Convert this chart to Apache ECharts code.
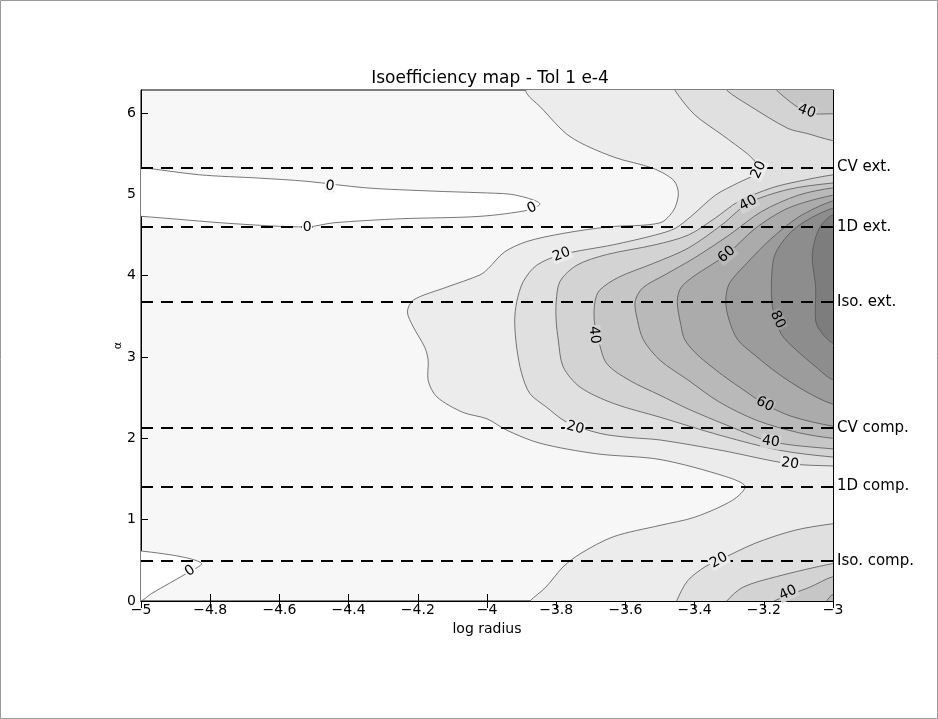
<!DOCTYPE html>
<html>
<head>
<meta charset="utf-8">
<script src="https://cdn.jsdelivr.net/npm/echarts@6/dist/echarts.min.js"></script>
<style>
html, body { margin: 0; padding: 0; background: #fff; }
#chart { width: 938px; height: 719px; }
</style>
</head>
<body>
<div id="chart"></div>
<script>
// tick values
var yTicks = [0, 1, 2, 3, 4, 5, 6];

// reference angles (dashed lines + right labels)
var refNames = ['CV ext.', '1D ext.', 'Iso. ext.', 'CV comp.', '1D comp.', 'Iso. comp.'];
var refAlpha = [5.33, 4.60, 3.68, 2.13, 1.41, 0.49];

// fill colour per band: <0, 0-10, 10-20, ... 90+
var bandColors = ['#ffffff', '#f7f7f7', '#ececec', '#e0e0e0', '#d3d3d3', '#c6c6c6',
                  '#b9b9b9', '#ababab', '#9c9c9c', '#8d8d8d', '#7d7d7d'];

// contour lines, [log radius, alpha]
// level 0 (regions below 0)
var c0a = [[-5.05,5.34],[-5,5.33],[-4.83,5.24],[-4.66,5.20],[-4.52,5.16],[-4.35,5.08],[-4.156,5.04],[-4.02,5.02],[-3.93,5.0],[-3.865,4.93],[-3.847,4.88],[-3.876,4.81],[-4.02,4.73],[-4.25,4.70],[-4.444,4.65],[-4.52,4.60],[-4.733,4.64],[-5,4.73],[-5.05,4.735]];
var c0b = [[-5.05,0.62],[-5,0.615],[-4.878,0.54],[-4.825,0.46],[-4.86,0.36],[-4.97,0.09],[-5,0.0],[-5.05,-0.05]];
// level 10
var c10 = [[-3.885,6.35],[-3.885,6.24],[-3.847,6.08],[-3.76,5.71],[-3.635,5.46],[-3.52,5.32],[-3.46,5.17],[-3.447,5.01],[-3.46,4.81],[-3.50,4.65],[-3.65,4.60],[-3.78,4.52],[-3.885,4.42],[-3.95,4.29],[-3.996,4.09],[-4.02,4.01],[-4.116,3.86],[-4.213,3.70],[-4.23,3.555],[-4.213,3.37],[-4.18,3.12],[-4.17,2.96],[-4.17,2.71],[-4.145,2.51],[-4.07,2.32],[-4.0,2.24],[-3.943,2.10],[-3.847,1.94],[-3.683,1.81],[-3.50,1.74],[-3.31,1.53],[-3.254,1.41],[-3.29,1.24],[-3.40,1.03],[-3.5,0.93],[-3.635,0.79],[-3.731,0.58],[-3.78,0.42],[-3.83,0.17],[-3.876,0],[-3.88,-0.05],[-2.95,-0.05],[-2.95,6.35]];
// level 20
var c20a = [[-3.457,6.35],[-3.457,6.28],[-3.40,5.98],[-3.32,5.73],[-3.245,5.49],[-3.22,5.38],[-3.205,5.31],[-3.225,5.24],[-3.275,5.14],[-3.34,4.99],[-3.41,4.73],[-3.457,4.58],[-3.514,4.50],[-3.635,4.38],[-3.784,4.26],[-3.856,4.13],[-3.895,3.93],[-3.914,3.68],[-3.92,3.44],[-3.914,3.11],[-3.90,2.80],[-3.876,2.55],[-3.83,2.39],[-3.77,2.20],[-3.673,2.06],[-3.587,2.01],[-3.5,1.98],[-3.32,1.85],[-3.13,1.69],[-3.0,1.66],[-2.95,1.66],[-2.95,6.35]];
var c20b = [[-3.452,-0.05],[-3.452,0],[-3.42,0.25],[-3.37,0.42],[-3.33,0.50],[-3.225,0.71],[-3.11,0.87],[-3.0,0.95],[-2.95,0.96],[-2.95,-0.05]];
// level 30
var c30a = [[-3.307,6.35],[-3.307,6.28],[-3.245,6.10],[-3.13,5.81],[-3.076,5.75],[-3.0,5.66],[-2.95,5.65],[-2.95,6.35]];
var c30b = [[-2.95,5.25],[-3.0,5.24],[-3.10,5.16],[-3.177,5.08],[-3.274,4.91],[-3.34,4.71],[-3.418,4.50],[-3.514,4.38],[-3.654,4.26],[-3.74,4.13],[-3.789,3.93],[-3.80,3.68],[-3.80,3.44],[-3.794,3.21],[-3.78,2.88],[-3.731,2.63],[-3.635,2.43],[-3.5,2.26],[-3.32,2.03],[-3.15,1.85],[-3.0,1.77],[-2.95,1.77]];
var c30c = [[-3.307,-0.05],[-3.307,0],[-3.26,0.17],[-3.163,0.30],[-3.0,0.46],[-2.95,0.47],[-2.95,-0.05]];
// level 40
var c40a = [[-3.163,6.35],[-3.163,6.28],[-3.076,6.01],[-3.0,5.99],[-2.95,5.99],[-2.95,6.35]];
var c40b = [[-2.95,5.14],[-3.0,5.14],[-3.13,5.06],[-3.245,4.89],[-3.32,4.63],[-3.418,4.34],[-3.52,4.15],[-3.62,3.98],[-3.675,3.82],[-3.688,3.68],[-3.69,3.45],[-3.678,3.21],[-3.654,2.92],[-3.587,2.71],[-3.5,2.53],[-3.418,2.36],[-3.30,2.15],[-3.18,1.96],[-3.0,1.87],[-2.95,1.87]];
var c40c = [[-3.17,-0.05],[-3.17,0],[-3.067,0.17],[-3.0,0.30],[-2.95,0.31],[-2.95,-0.05]];
// level 50
var c50b = [[-2.95,5.08],[-3.0,5.08],[-3.10,4.99],[-3.206,4.79],[-3.30,4.50],[-3.40,4.22],[-3.486,4.01],[-3.55,3.85],[-3.572,3.68],[-3.565,3.45],[-3.548,3.21],[-3.5,2.96],[-3.42,2.72],[-3.33,2.45],[-3.22,2.22],[-3.10,2.07],[-3.0,2.0],[-2.95,2.0]];
var c50c = [[-3.018,-0.05],[-3.018,0],[-3.0,0.08],[-2.95,0.1],[-2.95,-0.05]];
// level 60 .. 90
var c60 = [[-2.95,4.99],[-3.0,4.99],[-3.13,4.83],[-3.225,4.58],[-3.307,4.26],[-3.40,4.00],[-3.44,3.85],[-3.45,3.68],[-3.44,3.40],[-3.428,3.21],[-3.39,3.02],[-3.32,2.78],[-3.25,2.57],[-3.197,2.42],[-3.12,2.27],[-3.0,2.15],[-2.95,2.15]];
var c70 = [[-2.95,4.92],[-3.0,4.92],[-3.10,4.72],[-3.18,4.45],[-3.25,4.15],[-3.30,3.90],[-3.31,3.68],[-3.30,3.45],[-3.275,3.21],[-3.225,3.02],[-3.16,2.80],[-3.08,2.58],[-3.0,2.42],[-2.95,2.42]];
var c80 = [[-2.95,4.83],[-3.0,4.83],[-3.08,4.67],[-3.13,4.50],[-3.168,4.26],[-3.177,4.01],[-3.177,3.68],[-3.168,3.50],[-3.148,3.27],[-3.11,3.10],[-3.05,2.88],[-3.0,2.72],[-2.95,2.72]];
var c90 = [[-2.95,4.75],[-3.0,4.75],[-3.04,4.58],[-3.06,4.26],[-3.05,3.85],[-3.05,3.44],[-3.033,3.30],[-3.0,3.17],[-2.95,3.17]];

// contour labels: text, log radius, alpha, angle (deg)
var contourLabels = [
    ['0', -4.454, 5.10, -8], ['0', -4.52, 4.60, 0], ['0', -3.87, 4.83, 25], ['0', -4.858, 0.37, 35],
    ['20', -3.784, 4.26, 22], ['20', -3.215, 5.30, 65], ['20', -3.745, 2.13, -15], ['20', -3.124, 1.69, -8], ['20', -3.33, 0.50, 30],
    ['40', -3.69, 3.27, -85], ['40', -3.245, 4.89, 28], ['40', -3.18, 1.96, -8], ['40', -3.076, 6.02, -20], ['40', -3.13, 0.10, 25],
    ['60', -3.307, 4.26, 40], ['60', -3.197, 2.42, -27],
    ['80', -3.16, 3.46, -65]
];

// draw order, lowest level first
var regions = [
    {pts: c0a, level: 0}, {pts: c0b, level: 0},
    {pts: c10, level: 10},
    {pts: c20a, level: 20}, {pts: c20b, level: 20},
    {pts: c30a, level: 30}, {pts: c30b, level: 30}, {pts: c30c, level: 30},
    {pts: c40a, level: 40}, {pts: c40b, level: 40}, {pts: c40c, level: 40},
    {pts: c50b, level: 50}, {pts: c50c, level: 50},
    {pts: c60, level: 60}, {pts: c70, level: 70}, {pts: c80, level: 80}, {pts: c90, level: 90}
];

function fillFor(level) {
    return level === 0 ? bandColors[0] : bandColors[level / 10 + 1];
}

var FONT = 'DejaVu Sans';

var chart = echarts.init(document.getElementById('chart'));

var option = {
    backgroundColor: '#fff',
    animation: false,
    title: {
        text: 'Isoefficiency map - Tol 1 e-4',
        left: 485,
        top: 65,
        textAlign: 'center',
        textStyle: { fontFamily: FONT, fontSize: 17, fontWeight: 'normal', color: '#000' }
    },
    graphic: [{
        type: 'rect',
        shape: { x: 0.5, y: 0.5, width: 937, height: 718 },
        style: { fill: 'none', stroke: '#999', lineWidth: 1 },
        silent: true
    }],
    grid: {
        left: 141, right: 105, top: 90, bottom: 118,
        show: true,
        backgroundColor: bandColors[1],
        borderColor: '#000',
        borderWidth: 1
    },
    xAxis: [
        {
            type: 'value', min: -5, max: -3, interval: 0.2, position: 'bottom',
            name: 'log radius', nameLocation: 'middle', nameGap: 20,
            nameTextStyle: { fontFamily: FONT, fontSize: 14, color: '#000' },
            axisLine: { lineStyle: { color: '#000', width: 1 } },
            axisTick: { inside: true, length: 7, lineStyle: { color: '#000' } },
            axisLabel: {
                color: '#000', fontFamily: FONT, fontSize: 14, margin: 2,
                formatter: function (v) { return String(+v.toFixed(1)).replace('-', '\u2212'); }
            },
            splitLine: { show: false }
        },
        {
            type: 'value', min: -5, max: -3, interval: 0.2, position: 'top',
            axisLine: { lineStyle: { color: '#000', width: 1 } },
            axisTick: { inside: true, length: 7, lineStyle: { color: '#000' } },
            axisLabel: { show: false },
            splitLine: { show: false }
        }
    ],
    yAxis: [
        {
            type: 'value', min: 0, max: 2 * Math.PI, position: 'left',
            name: 'α', nameLocation: 'middle', nameGap: 17, nameMoveOverlap: false,
            nameTextStyle: { fontFamily: FONT, fontSize: 11, color: '#000' },
            axisLine: { lineStyle: { color: '#000', width: 1 } },
            axisTick: { inside: true, length: 7, customValues: yTicks, lineStyle: { color: '#000' } },
            axisLabel: { color: '#000', fontFamily: FONT, fontSize: 14, margin: 5, customValues: yTicks },
            splitLine: { show: false }
        },
        {
            type: 'value', min: 0, max: 2 * Math.PI, position: 'right',
            axisLine: { lineStyle: { color: '#000', width: 1 } },
            axisTick: { inside: true, length: 7, customValues: yTicks, lineStyle: { color: '#000' } },
            axisLabel: { show: false },
            splitLine: { show: false }
        },
        {
            type: 'value', min: 0, max: 2 * Math.PI, position: 'right',
            axisLine: { show: false },
            axisTick: { inside: true, length: 7, customValues: refAlpha, lineStyle: { color: '#000', width: 1.5 } },
            axisLabel: {
                color: '#000', fontFamily: FONT, fontSize: 15, margin: 4, customValues: refAlpha,
                formatter: function (v) {
                    var best = 0;
                    for (var i = 1; i < refAlpha.length; i++) {
                        if (Math.abs(refAlpha[i] - v) < Math.abs(refAlpha[best] - v)) best = i;
                    }
                    return refNames[best];
                }
            },
            splitLine: { show: false }
        }
    ],
    series: [
        {
            // filled contour bands
            type: 'custom',
            clip: true,
            silent: true,
            z: 2,
            data: regions.map(function (r, i) { return [-4, 3, i]; }),
            renderItem: function (params, api) {
                var r = regions[params.dataIndex];
                var points = r.pts.map(function (p) { return api.coord(p); });
                return {
                    type: 'polygon',
                    shape: { points: points, smooth: 0.3 },
                    style: { fill: fillFor(r.level), stroke: '#555', lineWidth: 0.8 }
                };
            }
        },
        {
            // dashed reference lines
            type: 'line',
            data: [],
            z: 5,
            markLine: {
                silent: true,
                symbol: ['none', 'none'],
                label: { show: false },
                lineStyle: { type: [12, 8], color: '#000', width: 2 },
                data: refAlpha.map(function (v) { return { yAxis: v }; })
            }
        },
        {
            // contour labels
            type: 'custom',
            silent: true,
            z: 6,
            data: contourLabels.map(function (l) { return [l[1], l[2]]; }),
            renderItem: function (params, api) {
                var l = contourLabels[params.dataIndex];
                var pt = api.coord([l[1], l[2]]);
                var lvl = +l[0];
                return {
                    type: 'text',
                    x: pt[0], y: pt[1],
                    rotation: l[3] * Math.PI / 180,
                    style: {
                        text: l[0],
                        fill: '#000',
                        font: '14px "DejaVu Sans"',
                        align: 'center',
                        verticalAlign: 'middle',
                        backgroundColor: lvl === 0 ? bandColors[1] : bandColors[lvl / 10],
                        padding: [0, 1]
                    }
                };
            }
        }
    ]
};

chart.setOption(option);
</script>
</body>
</html>
